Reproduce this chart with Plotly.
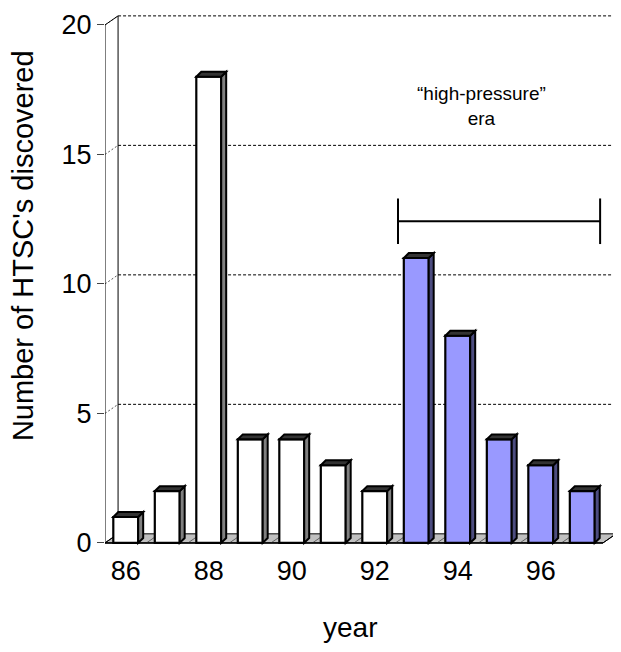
import plotly.graph_objects as go

# data
years = [86, 87, 88, 89, 90, 91, 92, 93, 94, 95, 96, 97]
counts = [1, 2, 18, 4, 4, 3, 2, 11, 8, 4, 3, 2]
hp_start = 93  # first year of the "high-pressure" era
y_ticks = [0, 5, 10, 15, 20]
x_ticks = [86, 88, 90, 92, 94, 96]

FONT = "Liberation Sans"
white_fill, white_side = "#FFFFFF", "#808080"
hp_fill, hp_side = "#9999FF", "#4D4D80"

bar_w = 0.6
bdx, bdy = 0.12, 0.19      # bar depth (3D look)
wdx, wdy = 0.315, 0.35     # wall depth
x_lo, x_hi = years[0] - 0.5, years[-1] + 0.5
y_top = y_ticks[-1]

fills = [hp_fill if y >= hp_start else white_fill for y in years]
sides = [hp_side if y >= hp_start else white_side for y in years]

fig = go.Figure()
fig.add_trace(go.Bar(
    x=years, y=counts, width=bar_w,
    marker=dict(color=fills, line=dict(color="black", width=2.2)),
    hoverinfo="x+y",
))

shapes = []
# floor
shapes.append(dict(type="path", layer="below",
                   path=f"M {x_lo},0 L {x_hi},0 L {x_hi + wdx},{wdy} L {x_lo + wdx},{wdy} Z",
                   fillcolor="#C0C0C0", line=dict(color="black", width=1)))
for k in range(1, len(years)):
    xb = x_lo + k
    shapes.append(dict(type="line", layer="below", x0=xb, y0=0, x1=xb + wdx, y1=wdy,
                       line=dict(color="#606060", width=1)))
# back wall gridlines + wall diagonals
for v in y_ticks[1:]:
    shapes.append(dict(type="line", layer="below", x0=x_lo + wdx, y0=v + wdy, x1=x_hi + wdx, y1=v + wdy,
                       line=dict(color="black", width=1, dash="3px,2px")))
    shapes.append(dict(type="line", layer="below", x0=x_lo, y0=v, x1=x_lo + wdx, y1=v + wdy,
                       line=dict(color="#555555", width=1, dash="2px,2px")))
# wall edges
shapes += [
    dict(type="line", layer="below", x0=x_lo, y0=0, x1=x_lo, y1=y_top, line=dict(color="black", width=1)),
    dict(type="line", layer="below", x0=x_lo + wdx, y0=wdy, x1=x_lo + wdx, y1=y_top + wdy,
         line=dict(color="black", width=1)),
    dict(type="line", layer="below", x0=x_lo, y0=y_top, x1=x_lo + wdx, y1=y_top + wdy,
         line=dict(color="black", width=1)),
    dict(type="line", layer="below", x0=x_hi + wdx, y0=wdy, x1=x_hi + wdx, y1=y_top + wdy,
         line=dict(color="black", width=1)),
    dict(type="line", layer="below", x0=x_lo, y0=0, x1=x_hi, y1=0, line=dict(color="black", width=1.5)),
    dict(type="line", layer="below", x0=x_lo, y0=0, x1=x_lo + wdx, y1=wdy, line=dict(color="black", width=1)),
    dict(type="line", layer="below", x0=x_hi, y0=0, x1=x_hi + wdx, y1=wdy, line=dict(color="black", width=1)),
]

# side and top faces of bars
for x, c, s in zip(years, counts, sides):
    xl, xr = x - bar_w / 2, x + bar_w / 2
    shapes.append(dict(type="path", layer="above",
                       path=f"M {xr},0 L {xr + bdx},{bdy} L {xr + bdx},{c + bdy} L {xr},{c} Z",
                       fillcolor=s, line=dict(color="black", width=2)))
    shapes.append(dict(type="path", layer="above",
                       path=f"M {xl},{c} L {xr},{c} L {xr + bdx},{c + bdy} L {xl + bdx},{c + bdy} Z",
                       fillcolor="#333333", line=dict(color="black", width=2)))

# "high-pressure" era span
span_x0, span_x1, span_y, span_h = 92.56, 97.43, 12.42, 0.88
shapes += [
    dict(type="line", layer="above", x0=span_x0, y0=span_y, x1=span_x1, y1=span_y,
         line=dict(color="black", width=2)),
    dict(type="line", layer="above", x0=span_x0, y0=span_y - span_h, x1=span_x0, y1=span_y + span_h,
         line=dict(color="black", width=2)),
    dict(type="line", layer="above", x0=span_x1, y0=span_y - span_h, x1=span_x1, y1=span_y + span_h,
         line=dict(color="black", width=2)),
]

fig.update_layout(
    width=613, height=636,
    margin=dict(l=97, r=2, t=2, b=98),
    paper_bgcolor="white", plot_bgcolor="white",
    showlegend=False,
    shapes=shapes,
    font=dict(family=FONT, color="black"),
    annotations=[
        dict(text="\u201chigh-pressure\u201d<br>era", x=94.58, y=16.88, xref="x", yref="y",
             xanchor="center", yanchor="middle",
             showarrow=False, font=dict(size=19, family=FONT), align="center"),
        dict(text="Number of HTSC's discovered", x=-0.1595, y=0.5616, xref="paper", yref="paper",
             xanchor="center", yanchor="middle",
             textangle=-90, showarrow=False, font=dict(size=29, family=FONT)),
        dict(text="year", x=0.4767, y=-0.153, xref="paper", yref="paper",
             xanchor="center", yanchor="middle",
             showarrow=False, font=dict(size=28, family=FONT)),
    ],
)
fig.update_xaxes(range=[x_lo, 97.885], tickvals=x_ticks, showgrid=False, zeroline=False,
                 showline=False, ticks="outside", ticklen=1, tickcolor="rgba(0,0,0,0)",
                 tickfont=dict(size=27, family=FONT))
fig.update_yaxes(range=[-0.12, 20.5], tickvals=y_ticks, showgrid=False, zeroline=False,
                 showline=False, ticks="outside", ticklen=7, tickcolor="#444444", tickwidth=1,
                 tickfont=dict(size=27, family=FONT))

fig.write_html("out.html")
